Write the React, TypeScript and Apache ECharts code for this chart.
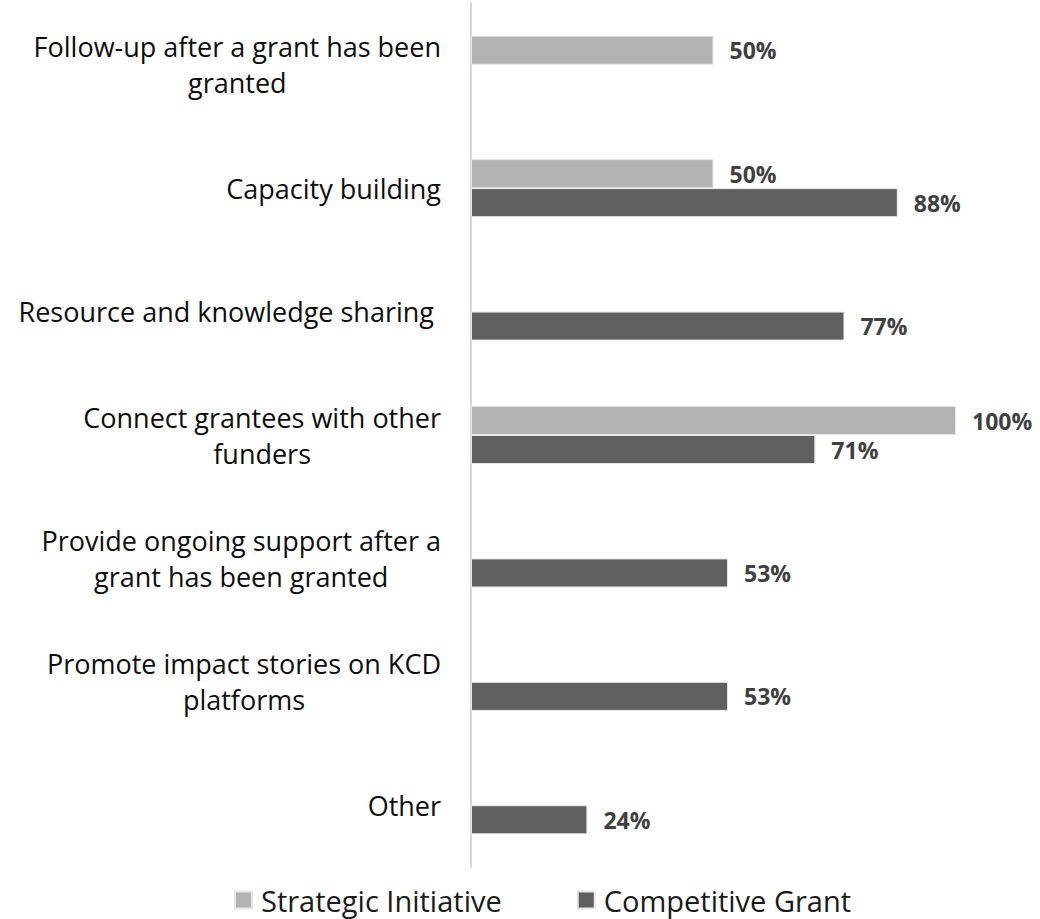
import React, { useEffect, useRef } from "react";
import * as echarts from "echarts";

const categories = [
  "Follow-up after a grant has been\ngranted",
  "Capacity building",
  "Resource and knowledge sharing ",
  "Connect grantees with other\nfunders",
  "Provide ongoing support after a\ngrant has been granted",
  "Promote impact stories on KCD\nplatforms",
  "Other",
];
const strategicInitiative = [50, 50, null, 100, null, null, null];
const competitiveGrant = [null, 88, 77, 71, 53, 53, 24];
const seriesNames = ["Strategic Initiative", "Competitive Grant"];

const FONT = '"Open Sans", "Noto Sans", sans-serif';

export default function App() {
  const ref = useRef<HTMLDivElement>(null);
  useEffect(() => {
    document.body.style.margin = "0";
    const chart = echarts.init(ref.current!, null, { renderer: "svg" });
    const valueLabel = {
      show: true,
      position: "right",
      distance: 16,
      formatter: (p: any) => (p.value == null ? "" : p.value + "%"),
      fontFamily: FONT,
      fontSize: 23,
      fontWeight: "bold",
      color: "#404040",
    };
    chart.setOption({
      animation: false,
      textStyle: { fontFamily: FONT },
      grid: { left: 471, right: 84, top: 3, bottom: 52, containLabel: false },
      legend: {
        top: 880,
        left: 229,
        itemWidth: 17,
        itemHeight: 17,
        itemGap: 75,
        icon: "rect",
        textStyle: {
          fontFamily: FONT,
          fontSize: 29,
          lineHeight: 30,
          color: "#1a1a1a",
          padding: [0, 0, 0, 4],
        },
        data: seriesNames,
      },
      xAxis: {
        type: "value",
        min: 0,
        max: 100,
        show: false,
        splitLine: { show: false },
      },
      yAxis: {
        type: "category",
        inverse: true,
        data: categories,
        axisLine: { show: true, lineStyle: { color: "#d9d9d9", width: 2 } },
        axisTick: { show: false },
        axisLabel: {
          margin: 30,
          align: "right",
          fontFamily: FONT,
          fontSize: 27,
          lineHeight: 36,
          color: "#0d0d0d",
          formatter: (v: string) =>
            v
              .split("\n")
              .map((l) => "{c|" + l + "}")
              .join("\n"),
          rich: {
            c: {
              align: "center",
              fontFamily: FONT,
              fontSize: 27,
              lineHeight: 36,
              color: "#0d0d0d",
            },
          },
        },
      },
      series: [
        {
          name: seriesNames[0],
          type: "bar",
          data: strategicInitiative,
          barWidth: 29,
          barGap: "0%",
          itemStyle: { color: "#b3b3b3", borderColor: "#e6e6e6", borderWidth: 1 },
          label: valueLabel,
        },
        {
          name: seriesNames[1],
          type: "bar",
          data: competitiveGrant,
          barWidth: 29,
          barGap: "0%",
          itemStyle: { color: "#5f5f5f", borderColor: "#e6e6e6", borderWidth: 1 },
          label: valueLabel,
        },
      ],
    });
    return () => chart.dispose();
  }, []);
  return <div ref={ref} style={{ width: 1040, height: 919 }} />;
}
